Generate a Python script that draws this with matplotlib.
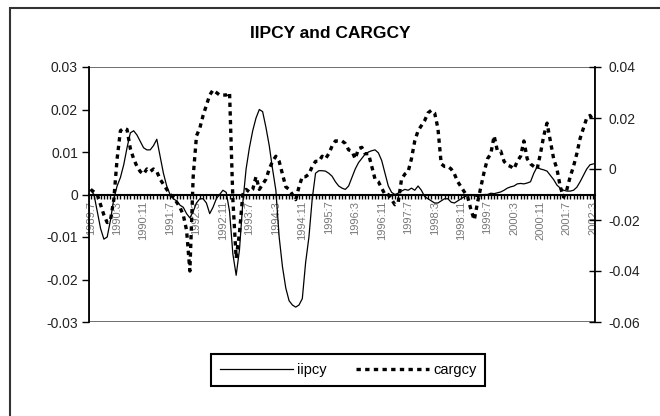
import matplotlib
matplotlib.use("Agg")
import matplotlib.pyplot as plt
from matplotlib.patches import Rectangle
from matplotlib.ticker import FixedLocator, MultipleLocator

plt.rcParams['font.family'] = ['Liberation Sans', 'DejaVu Sans']

# monthly data, 1989:7 .. 2002:3
iipcy = [
    0.001, 0.000, -0.004, -0.008, -0.0105, -0.010, -0.006, -0.001, 0.002, 0.004,
    0.007, 0.011, 0.0145, 0.015, 0.014, 0.0125, 0.011, 0.0105, 0.0105, 0.0115,
    0.013, 0.009, 0.005, 0.002, 0.000, -0.001, -0.0015, -0.0025, -0.003, -0.0045,
    -0.0055, -0.004, -0.002, -0.001, -0.001, -0.002, -0.0045, -0.003, -0.001, 0.000,
    0.001, 0.0005, -0.004, -0.014, -0.019, -0.013, -0.002, 0.006, 0.011, 0.015,
    0.018, 0.020, 0.0195, 0.0158, 0.0115, 0.006, 0.001, -0.010, -0.017, -0.022,
    -0.025, -0.026, -0.0265, -0.026, -0.0245, -0.016, -0.010, -0.001, 0.005, 0.0056,
    0.0056, 0.0055, 0.005, 0.0043, 0.003, 0.002, 0.0015, 0.0012, 0.002, 0.004,
    0.006, 0.0075, 0.0085, 0.0095, 0.010, 0.0103, 0.0105, 0.0098, 0.008, 0.005,
    0.002, 0.0005, 0.000, 0.0003, 0.0008, 0.0012, 0.001, 0.0015, 0.001, 0.002,
    0.001, -0.0005, -0.001, -0.0015, -0.002, -0.002, -0.0015, -0.001, -0.001, -0.0018,
    -0.002, -0.0015, -0.001, -0.0005, -0.0003, 0.000, -0.0003, -0.0005, -0.0003, 0.000,
    0.000, 0.0003, 0.0002, 0.0004, 0.0006, 0.001, 0.0015, 0.0018, 0.002, 0.0025,
    0.0026, 0.0025, 0.0027, 0.003, 0.005, 0.0065, 0.006, 0.0058, 0.0055, 0.0045,
    0.0035, 0.0022, 0.0015, 0.001, 0.0008, 0.0008, 0.001, 0.0017, 0.003, 0.0045,
    0.006, 0.007, 0.0072,
]

cargcy = [
    -0.008, -0.009, -0.010, -0.014, -0.018, -0.021, -0.020, -0.012, 0.004, 0.015,
    0.016, 0.0155, 0.008, 0.004, 0.001, -0.001, -0.002, 0.000, -0.001, 0.000,
    -0.001, -0.004, -0.006, -0.008, -0.010, -0.011, -0.013, -0.015, -0.018, -0.024,
    -0.040, -0.003, 0.013, 0.016, 0.021, 0.025, 0.029, 0.031, 0.030, 0.029,
    0.029, 0.029, 0.030, -0.012, -0.035, -0.025, -0.010, -0.008, -0.009, -0.008,
    -0.003, -0.008, -0.006, -0.004, 0.000, 0.003, 0.005, 0.003, -0.002, -0.007,
    -0.008, -0.010, -0.012, -0.007, -0.003, -0.003, -0.002, 0.001, 0.003, 0.003,
    0.005, 0.004, 0.006, 0.009, 0.011, 0.011, 0.011, 0.010, 0.0075, 0.007,
    0.004, 0.008, 0.0085, 0.006, 0.006, 0.001, -0.004, -0.005, -0.0075, -0.010,
    -0.010, -0.012, -0.014, -0.013, -0.004, -0.002, -0.001, 0.004, 0.011, 0.015,
    0.017, 0.019, 0.022, 0.023, 0.022, 0.016, 0.002, 0.001, 0.001, 0.000,
    -0.002, -0.005, -0.007, -0.009, -0.011, -0.016, -0.020, -0.013, -0.007, -0.001,
    0.004, 0.006, 0.013, 0.007, 0.007, 0.003, 0.0015, 0.001, 0.000, 0.003,
    0.005, 0.011, 0.004, 0.002, 0.001, 0.000, 0.006, 0.013, 0.018, 0.011,
    0.004, 0.000, -0.007, -0.011, -0.008, -0.003, 0.001, 0.006, 0.012, 0.016,
    0.020, 0.021, 0.019,
]

months = []
for i in range(len(iipcy)):
    y = 1989 + (6 + i) // 12
    m = (6 + i) % 12 + 1
    months.append(f"{y}:{m}")

left_ticks = [0.03, 0.02, 0.01, 0, -0.01, -0.02, -0.03]
left_labels = ["0.03", "0.02", "0.01", "0", "-0.01", "-0.02", "-0.03"]
right_ticks = [0.04, 0.02, 0, -0.02, -0.04, -0.06]
right_labels = ["0.04", "0.02", "0", "-0.02", "-0.04", "-0.06"]

fig = plt.figure(figsize=(6.6, 4.16), dpi=100)

# outer chart border
fig.patches.append(Rectangle((10 / 660, -0.05), 1.0, 1 - 8 / 416 + 0.05,
                             transform=fig.transFigure, fill=False,
                             edgecolor='#333333', linewidth=1.5))

ax = fig.add_axes([89 / 660, 94 / 416, (595 - 89) / 660, (322 - 67) / 416])
ax2 = ax.twinx()

x = list(range(len(iipcy)))
l1, = ax.plot(x, iipcy, color='black', linewidth=0.9, label='iipcy')
l2, = ax2.plot(x, cargcy, color='black', linewidth=2.4,
               linestyle=(0, (1.3, 1.3)), label='cargcy')

ax.set_xlim(-0.5, len(iipcy) - 0.5)
ax.set_ylim(-0.03, 0.03)
ax2.set_ylim(-0.06, 0.04)

ax.set_yticks(left_ticks)
ax.set_yticklabels(left_labels)
ax2.set_yticks(right_ticks)
ax2.set_yticklabels(right_labels)

# x axis sits on the left zero line
ax.spines['bottom'].set_position(('data', 0))
ax.spines['bottom'].set_linewidth(1.5)
ax.spines['top'].set_visible(False)
for s in ['top', 'bottom', 'left']:
    ax2.spines[s].set_visible(False)
ax.spines['left'].set_linewidth(1.3)
ax2.spines['right'].set_linewidth(1.3)
ax.spines['right'].set_visible(False)
ax.add_patch(Rectangle((0, 0), 1, 1, transform=ax.transAxes, fill=False,
                       edgecolor='#555555', linewidth=1.2, zorder=0))

ax.xaxis.set_major_locator(FixedLocator(x[::8]))
ax.set_xticklabels(months[::8], rotation=90, fontsize=8, color='#777777')
ax.xaxis.set_minor_locator(MultipleLocator(1))
ax.tick_params(axis='x', which='both', direction='out', length=3, width=1,
               pad=1.5)
ax.tick_params(axis='y', direction='out', length=5, width=1, labelsize=10,
               colors='black', labelcolor='#222222', pad=3)
ax2.tick_params(axis='y', direction='inout', length=9, width=1, labelsize=10,
                labelcolor='#222222', pad=5)

fig.text(330 / 660, 1 - 33 / 416, "IIPCY and CARGCY", ha='center', va='center',
         fontsize=12.5, fontweight='bold')

leg = fig.legend([l1, l2], ['iipcy', 'cargcy'], loc='center',
                 bbox_to_anchor=(348 / 660, 1 - 370 / 416), ncol=2,
                 fontsize=10.5, frameon=True, fancybox=False, framealpha=1,
                 edgecolor='black', handlelength=5, columnspacing=2.0,
                 handletextpad=0.3, borderpad=0.6)
leg.get_frame().set_linewidth(1.5)

fig.savefig("out.png", dpi=100)
